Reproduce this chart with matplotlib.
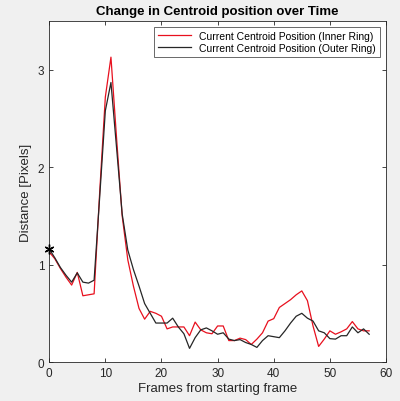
import matplotlib
matplotlib.use("Agg")
import matplotlib.pyplot as plt

plt.rcParams['font.family'] = ['Liberation Sans', 'DejaVu Sans']

frames = list(range(58))
inner = [1.13, 1.06, 0.96, 0.87, 0.79, 0.92, 0.68, 0.69, 0.70, 1.75,
         2.72, 3.13, 2.30, 1.50, 1.05, 0.78, 0.55, 0.44, 0.52, 0.50,
         0.47, 0.34, 0.36, 0.36, 0.36, 0.27, 0.41, 0.33, 0.30, 0.29,
         0.37, 0.37, 0.22, 0.22, 0.245, 0.23, 0.18, 0.235, 0.30, 0.42,
         0.445, 0.56, 0.60, 0.64, 0.69, 0.73, 0.63, 0.37, 0.16, 0.235,
         0.32, 0.285, 0.31, 0.34, 0.415, 0.34, 0.32, 0.32]
outer = [1.16, 1.07, 0.97, 0.89, 0.82, 0.915, 0.82, 0.81, 0.84, 1.70,
         2.58, 2.87, 2.20, 1.52, 1.15, 0.95, 0.78, 0.60, 0.50, 0.40,
         0.40, 0.40, 0.45, 0.36, 0.29, 0.14, 0.25, 0.33, 0.35, 0.32,
         0.285, 0.30, 0.235, 0.22, 0.23, 0.20, 0.18, 0.15, 0.22, 0.27,
         0.26, 0.25, 0.32, 0.40, 0.47, 0.50, 0.45, 0.42, 0.32, 0.30,
         0.24, 0.235, 0.27, 0.27, 0.36, 0.30, 0.34, 0.285]

fig = plt.figure(figsize=(4.0, 4.02), dpi=100, facecolor='#f0f0f0')
ax = fig.add_axes([0.123, 0.097, 0.842, 0.848])

ax.plot(frames, inner, color='#e8101e', lw=0.9, label='Current Centroid Position (Inner Ring)')
ax.plot(frames, outer, color='#262626', lw=0.9, label='Current Centroid Position (Outer Ring)')
# asterisk on the starting point, like matlab's '*'
ax.plot(frames[0], outer[0], marker=(6, 2, 0), color='black', ms=7, mew=1.0,
        ls='none', clip_on=False, zorder=5)

ax.set_xlim(0, 60)
ax.set_ylim(0, 3.5)
ax.set_xticks([0, 10, 20, 30, 40, 50, 60])
ax.set_yticks([0, 1, 2, 3])
ax.tick_params(direction='in', top=True, right=True, labelsize=8.5,
               colors='#262626', length=3, width=0.6)
for s in ax.spines.values():
    s.set_color('#262626')
    s.set_linewidth(0.6)

ax.set_title('Change in Centroid position over Time', fontsize=9.5,
             fontweight='bold', pad=5)
ax.set_xlabel('Frames from starting frame', fontsize=9.5, color='#262626', labelpad=2)
ax.set_ylabel('Distance [Pixels]', fontsize=9.5, color='#262626', labelpad=4)

leg = ax.legend(loc='upper right', fontsize=7.5, frameon=True, fancybox=False,
                edgecolor='#262626', handlelength=3.2, borderaxespad=0.6,
                borderpad=0.35, labelspacing=0.2)
leg.get_frame().set_linewidth(0.6)

fig.savefig('out.png', dpi=100, facecolor=fig.get_facecolor())
